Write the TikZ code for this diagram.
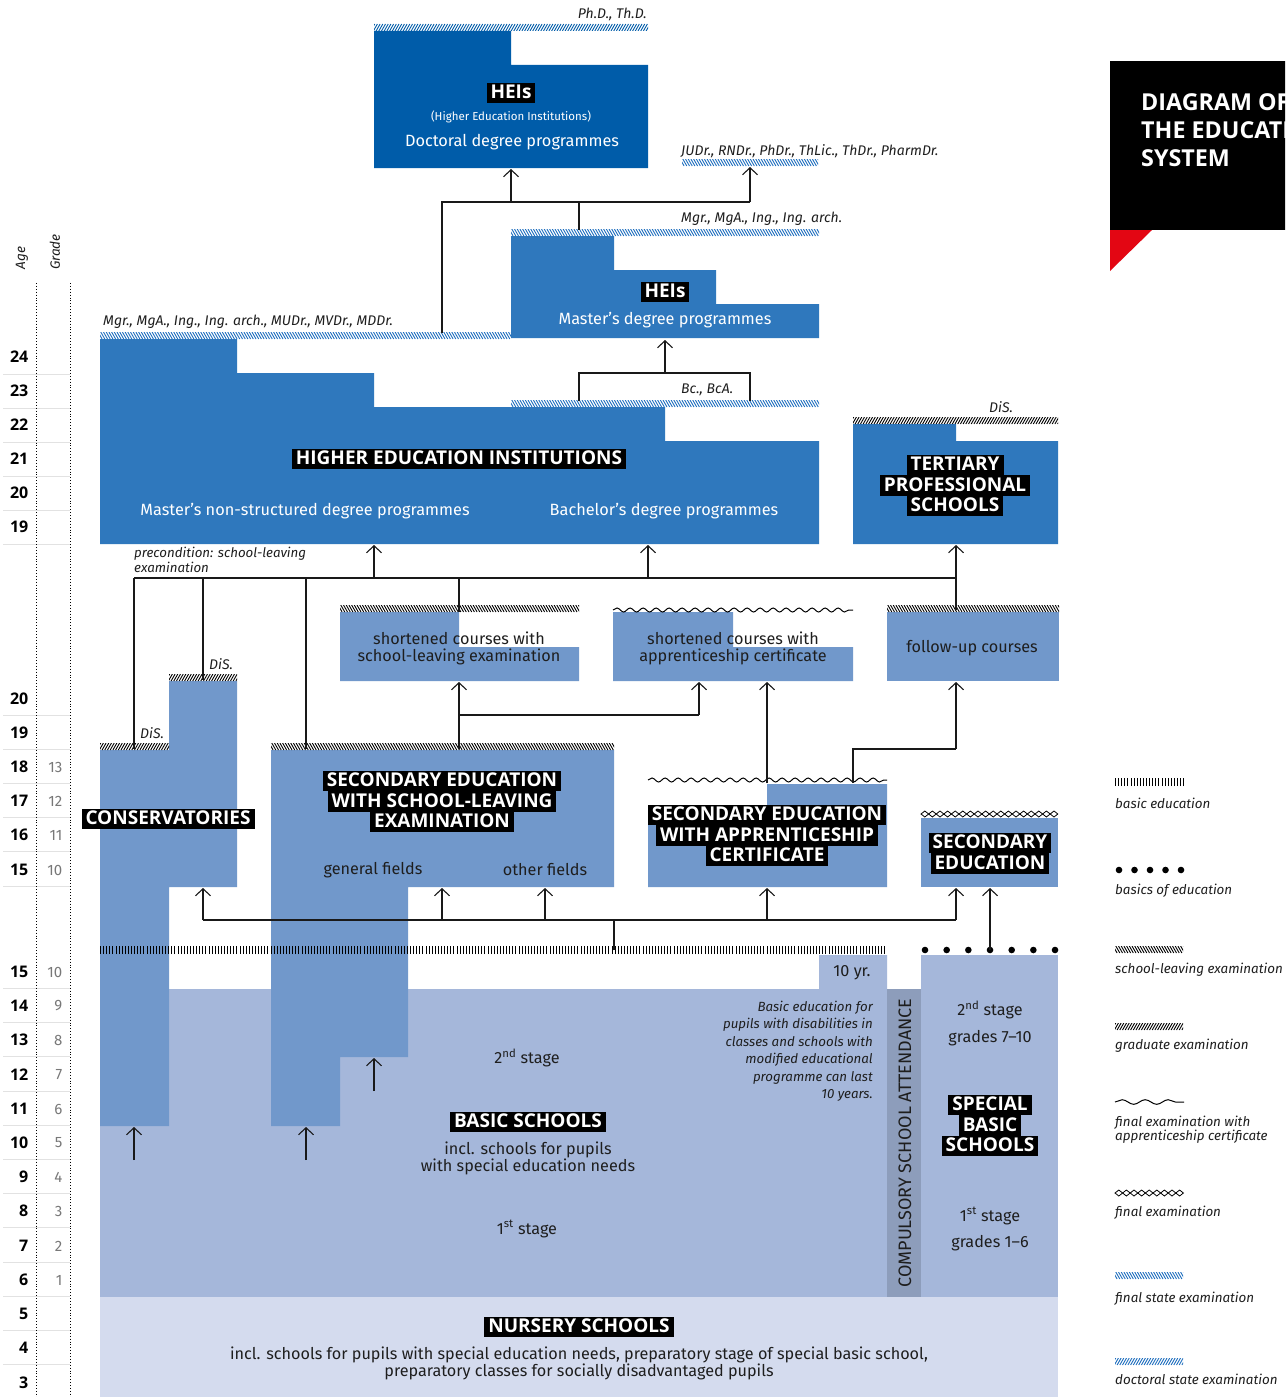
\documentclass[tikz,border=0pt]{standalone}
\usepackage{fontspec}
\setmainfont{Fira Sans}
\newfontfamily\headfont{Open Sans}
\usetikzlibrary{arrows.meta,decorations.pathmorphing}
\definecolor{docblue}{RGB}{0,92,169}
\definecolor{heiblue}{RGB}{47,120,189}
\definecolor{secblue}{RGB}{113,152,203}
\definecolor{basicblue}{RGB}{165,183,218}
\definecolor{nurscol}{RGB}{212,219,238}
\definecolor{compgray}{RGB}{141,157,187}
\definecolor{hatchblue}{RGB}{30,110,190}
\definecolor{titlered}{RGB}{227,6,19}
\definecolor{textc}{RGB}{30,30,30}
\definecolor{linec}{RGB}{25,25,25}
\definecolor{sepc}{RGB}{226,226,226}
\definecolor{gradec}{RGB}{120,120,120}
\newcommand\hatchbar[5]{%
  \begin{scope}
  \clip (#1,#3-7) rectangle (#2,#3);
  \pgfmathtruncatemacro\hbn{(#2-#1)/2.7+4}
  \foreach \hbi in {0,...,\hbn}{\draw[#5,line width=0.9pt] ({#1-6+\hbi*2.7},#3) -- ++(#4,-7);}
  \end{scope}}
\newcommand\vbars[4]{%
  \pgfmathtruncatemacro\vbn{(#2-#1)/3.1}
  \foreach \vbi in {0,...,\vbn}{\draw[line width=0.9pt] ({#1+0.5+\vbi*3.1},#3) -- ++(0,-#4);}}
\newcommand\diachain[4]{%
  \foreach \dci in {1,...,#2}{\draw[line width=0.8pt] ({#1+(\dci-1)*#4},#3) -- ++({#4/2},-3) -- ++({#4/2},3) -- ++({-#4/2},3) -- cycle;}}
\begin{document}
\begin{tikzpicture}[x=1pt,y=-1pt,
  ln/.style={line width=1.1pt,draw=linec},
  arr/.style={line width=1.1pt,draw=linec,-{Straight Barb[length=7pt,width=15pt,line width=1.1pt]}},
  blk/.style={fill=black,text=white,font=\fontsize{19}{19}\selectfont\headfont\bfseries,inner xsep=4pt,inner ysep=2.25pt,text height=13.8pt,text depth=2.2pt},
  wt/.style={text=white,font=\fontsize{16.3}{18}\selectfont,align=center},
  dk/.style={text=textc,font=\fontsize{16.2}{17}\selectfont,align=center},
  it/.style={text=textc,font=\fontsize{14}{12}\selectfont\itshape,inner sep=0pt},
  lit/.style={text=textc,font=\fontsize{13.4}{11.5}\selectfont\itshape,inner sep=0pt,anchor=west,align=left},
  age/.style={anchor=east,inner sep=0pt,font=\fontsize{16}{16}\selectfont\headfont\bfseries},
  grd/.style={anchor=east,inner sep=0pt,text=gradec,font=\fontsize{15}{15}\selectfont},
  wave/.style={line width=1pt,decorate,decoration={snake,segment length=13pt,amplitude=2pt}},
]
\useasboundingbox (0,0) rectangle (1285,1397);
\fill[white] (0,0) rectangle (1285,1397);

% ---------- age / grade scale ----------
\foreach \y in {374,408,442,476,510,544,715,749,783,817,851,886,988,1022,1056,1091,1125,1159,1193,1227,1262,1296,1330,1364}
  \draw[sepc,line width=0.8pt] (3,\y) -- (70,\y);
\draw[dotted,line width=0.9pt] (36,283) -- (36,1397);
\draw[dotted,line width=0.9pt] (70,283) -- (70,1397);
\node[rotate=90,font=\fontsize{13.5}{13.5}\selectfont\itshape,text=textc] (agehead) at (22,258) {Age};
\node[rotate=90,font=\fontsize{13.5}{13.5}\selectfont\itshape,text=textc] (gradehead) at (55,252) {Grade};
\foreach \a/\y in {24/357,23/391,22/425,21/459,20/493,19/527,20/699,19/733,18/767,17/801,16/835,15/870,15/972,14/1006,13/1040,12/1075,11/1109,10/1143,9/1177,8/1211,7/1246,6/1280,5/1314,4/1348,3/1383}
  \node[age] at (28.5,\y) {\a};
\foreach \g/\y in {13/767,12/801,11/835,10/870,10/972,9/1006,8/1040,7/1075,6/1109,5/1143,4/1177,3/1211,2/1246,1/1280}
  \node[grd] at (62.5,\y) {\g};

% ---------- blocks ----------
% doctoral
\fill[docblue] (374,31) -- (511,31) -- (511,65) -- (648,65) -- (648,168) -- (374,168) -- cycle;
\hatchbar{374}{648}{31}{4}{docblue}
% master's HEIs
\fill[heiblue] (511,236) -- (614,236) -- (614,270) -- (716,270) -- (716,304) -- (819,304) -- (819,338) -- (511,338) -- cycle;
\hatchbar{511}{819}{236}{-4}{hatchblue}
\hatchbar{682}{818}{166}{-4}{hatchblue}
% big HEI
\fill[heiblue] (100,339) -- (237,339) -- (237,373) -- (374,373) -- (374,407) -- (665,407) -- (665,441) -- (819,441) -- (819,544) -- (100,544) -- cycle;
\hatchbar{100}{511}{339}{-4}{hatchblue}
\hatchbar{511}{819}{407}{-4}{hatchblue}
% tertiary professional
\fill[heiblue] (853,424) -- (956,424) -- (956,441) -- (1058,441) -- (1058,544) -- (853,544) -- cycle;
\hatchbar{853}{1058}{424}{4}{black}
% shortened courses SLE
\fill[secblue] (340,612) -- (459,612) -- (459,647) -- (579,647) -- (579,681) -- (340,681) -- cycle;
\hatchbar{340}{579}{612}{-4}{black}
% shortened courses AC
\fill[secblue] (613,612) -- (733,612) -- (733,647) -- (853,647) -- (853,681) -- (613,681) -- cycle;
\draw[wave] (613,610) -- (853,610);
% follow-up
\fill[secblue] (887,612) rectangle (1059,681);
\hatchbar{887}{1059}{612}{-4}{black}
% basic schools
\fill[basicblue] (100,989) -- (819,989) -- (819,955) -- (887,955) -- (887,1297) -- (100,1297) -- cycle;
\fill[compgray] (887,989) rectangle (921,1297);
\fill[basicblue] (921,955) rectangle (1058,1297);
\fill[nurscol] (100,1297) rectangle (1058,1397);
% conservatories
\fill[secblue] (169,681) -- (237,681) -- (237,887) -- (169,887) -- (169,1126) -- (100,1126) -- (100,750) -- (169,750) -- cycle;
\hatchbar{100}{169}{750}{4}{black}
\hatchbar{169}{237}{681}{4}{black}
% secondary SLE
\fill[secblue] (271,750) -- (614,750) -- (614,887) -- (408,887) -- (408,1057) -- (340,1057) -- (340,1126) -- (271,1126) -- cycle;
\hatchbar{271}{614}{750}{-4}{black}
% secondary AC
\fill[secblue] (767,784) -- (887,784) -- (887,887) -- (648,887) -- (648,818) -- (767,818) -- cycle;
\draw[wave] (648,780) -- (887,780);
% secondary final
\fill[secblue] (921,818) rectangle (1058,887);
\diachain{921}{18}{814}{7.6}
% basic education bars and dots
\vbars{100}{887}{954}{8}
\foreach \i in {0,...,6} \fill ({925+\i*21.67},950) circle (3.3pt);

% ---------- connectors ----------
\coordinate (dA) at (442,333); \coordinate (dB) at (442,202); \coordinate (dC) at (750,202); \coordinate (dD) at (750,167);
\coordinate (dE) at (511,202); \coordinate (dF) at (511,169); \coordinate (dG) at (579,230); \coordinate (dH) at (579,202);
\draw[ln] (dA) -- (dB) -- (dC);
\draw[arr] (dC) -- (dD);
\draw[arr] (dE) -- (dF);
\draw[ln] (dG) -- (dH);
\coordinate (mA) at (579,401); \coordinate (mB) at (579,373); \coordinate (mC) at (750,373); \coordinate (mD) at (750,401);
\coordinate (mE) at (665,373); \coordinate (mF) at (665,340);
\draw[ln] (mA) -- (mB) -- (mC) -- (mD);
\draw[arr] (mE) -- (mF);
\coordinate (hL) at (134,578); \coordinate (hR) at (956,578);
\coordinate (hA) at (374,578); \coordinate (hA2) at (374,545);
\coordinate (hB) at (648,578); \coordinate (hB2) at (648,545);
\coordinate (hC) at (956,610); \coordinate (hC2) at (956,545);
\coordinate (hD) at (134,749); \coordinate (hE) at (203,578); \coordinate (hE2) at (203,680);
\coordinate (hF) at (306,578); \coordinate (hF2) at (306,749);
\coordinate (hG) at (459,578); \coordinate (hG2) at (459,612);
\draw[ln] (hL) -- (hR);
\draw[arr] (hA) -- (hA2);
\draw[arr] (hB) -- (hB2);
\draw[arr] (hC) -- (hC2);
\draw[ln] (hL) -- (hD);
\draw[ln] (hE) -- (hE2);
\draw[ln] (hF) -- (hF2);
\draw[ln] (hG) -- (hG2);
\coordinate (sA) at (459,749); \coordinate (sB) at (459,715); \coordinate (sC) at (699,715); \coordinate (sC2) at (699,682);
\coordinate (sB2) at (459,682);
\draw[ln] (sA) -- (sB) -- (sC);
\draw[arr] (sC) -- (sC2);
\draw[arr] (sB) -- (sB2);
\coordinate (aA) at (767,783); \coordinate (aA2) at (767,682);
\draw[arr] (aA) -- (aA2);
\coordinate (aB) at (853,783); \coordinate (aC) at (853,749); \coordinate (aD) at (956,749); \coordinate (aD2) at (956,682);
\draw[ln] (aB) -- (aC) -- (aD);
\draw[arr] (aD) -- (aD2);
\coordinate (bA) at (614,950); \coordinate (bB) at (614,920);
\coordinate (bL) at (203,920); \coordinate (bR) at (956,920);
\draw[ln] (bA) -- (bB);
\draw[ln] (bL) -- (bR);
\foreach \xx in {203,442,545,767,956} \draw[arr] (\xx,920) -- (\xx,888);
\coordinate (bS) at (990,950); \coordinate (bS2) at (990,888);
\draw[arr] (bS) -- (bS2);
\coordinate (gA) at (134,1160); \coordinate (gA2) at (134,1127);
\coordinate (gB) at (306,1160); \coordinate (gB2) at (306,1127);
\coordinate (gC) at (374,1091); \coordinate (gC2) at (374,1058);
\draw[arr] (gA) -- (gA2);
\draw[arr] (gB) -- (gB2);
\draw[arr] (gC) -- (gC2);

% ---------- labels ----------
\node[it,anchor=east] (phd) at (647,14) {Ph.D., Th.D.};
\node[blk] (heis1) at (511,93) {HEIs};
\node[wt,font=\fontsize{11.5}{12}\selectfont] (hei1sub) at (511,117) {(Higher Education Institutions)};
\node[wt] (doct) at (512,142) {Doctoral degree programmes};
\node[it,anchor=west] (judr) at (681,151) {JUDr., RNDr., PhDr., ThLic., ThDr., PharmDr.};
\node[it,anchor=west] (mgr1) at (681,219) {Mgr., MgA., Ing., Ing. arch.};
\node[blk] (heis2) at (665,292) {HEIs};
\node[wt] (mast) at (665,320) {Master’s degree programmes};
\node[it,anchor=west] (mgr2) at (103,322) {Mgr., MgA., Ing., Ing. arch., MUDr., MVDr., MDDr.};
\node[it,anchor=west] (bc) at (681,390) {Bc., BcA.};
\node[it,anchor=west] (dis1) at (989,407) {DiS.};
\node[blk] (hei) at (459,459) {HIGHER EDUCATION INSTITUTIONS};
\node[wt] (mns) at (305,511) {Master’s non-structured degree programmes};
\node[wt] (bach) at (664,511) {Bachelor’s degree programmes};
\node[blk] (tps1) at (955,465) {TERTIARY};
\node[blk] (tps2) at (955,485.5) {PROFESSIONAL};
\node[blk] (tps3) at (955,506) {SCHOOLS};
\node[it,anchor=west,align=left,font=\fontsize{13.3}{11}\selectfont\itshape] (precond) at (134,560) {precondition: school-leaving\\examination};
\node[dk] (shsle) at (459,648) {shortened courses with\\school-leaving examination};
\node[dk] (shac) at (733,648) {shortened courses with\\apprenticeship certificate};
\node[dk] (follow) at (972,648) {follow-up courses};
\node[it,anchor=west] (dis2) at (209,664) {DiS.};
\node[it,anchor=west] (dis3) at (140,733) {DiS.};
\node[blk] (cons) at (168,819) {CONSERVATORIES};
\node[blk] (sse1) at (442,781) {SECONDARY EDUCATION};
\node[blk] (sse2) at (442,801.5) {WITH SCHOOL-LEAVING};
\node[blk] (sse3) at (442,822) {EXAMINATION};
\node[dk] (gen) at (373,870) {general fields};
\node[dk] (oth) at (545,870) {other fields};
\node[blk] (sac1) at (767,815) {SECONDARY EDUCATION};
\node[blk] (sac2) at (767,835.5) {WITH APPRENTICESHIP};
\node[blk] (sac3) at (767,856) {CERTIFICATE};
\node[blk] (sfe1) at (990,843) {SECONDARY};
\node[blk] (sfe2) at (990,863.5) {EDUCATION};
\node[dk] (tenyr) at (852,973) {10 yr.};
\node[it,anchor=north east,align=right,font=\fontsize{13.3}{17.4}\selectfont\itshape] (disab) at (873,1001) {Basic education for\\pupils with disabilities in\\classes and schools with\\modified educational\\programme can last\\10 years.};
\node[dk] (bs2) at (527,1058) {2\textsuperscript{nd} stage};
\node[blk] (bs) at (528,1122) {BASIC SCHOOLS};
\node[dk] (bsincl) at (528,1158) {incl. schools for pupils\\with special education needs};
\node[dk] (bs1) at (527,1229) {1\textsuperscript{st} stage};
\node[rotate=90,text=textc,font=\fontsize{18}{18}\selectfont] (comp) at (905,1143) {COMPULSORY SCHOOL ATTENDANCE};
\node[dk] (sb2) at (990,1010) {2\textsuperscript{nd} stage};
\node[dk] (sbg2) at (990,1038) {grades 7–10};
\node[blk] (sbs1) at (990,1105) {SPECIAL};
\node[blk] (sbs2) at (990,1125.5) {BASIC};
\node[blk] (sbs3) at (990,1146) {SCHOOLS};
\node[dk] (sb1) at (990,1216) {1\textsuperscript{st} stage};
\node[dk] (sbg1) at (990,1243) {grades 1–6};
\node[blk] (nurs) at (579,1327) {NURSERY SCHOOLS};
\node[dk] (nursincl) at (579,1363) {incl. schools for pupils with special education needs, preparatory stage of special basic school,\\preparatory classes for socially disadvantaged pupils};

% ---------- title ----------
\begin{scope}
\clip (1110,61) rectangle (1285,230);
\fill[black] (1110,61) rectangle (1290,230);
\node[anchor=north west,align=left,text=white,inner sep=0pt,font=\fontsize{23.3}{28}\selectfont\headfont\bfseries] (title) at (1141,93) {DIAGRAM OF\\THE EDUCATION\\SYSTEM};
\end{scope}
\fill[titlered] (1110,230) -- (1152,230) -- (1110,271) -- cycle;

% ---------- legend ----------
\vbars{1115}{1185}{786}{8}
\node[lit] (lg1) at (1115,803) {basic education};
\foreach \i in {0,...,4} \fill ({1119+\i*15.5},870) circle (3.3pt);
\node[lit] (lg2) at (1115,891) {basics of education};
\hatchbar{1115}{1183}{953}{-4}{black}
\node[lit] (lg3) at (1115,970) {school-leaving examination};
\hatchbar{1115}{1183}{1030}{4}{black}
\node[lit] (lg4) at (1115,1046) {graduate examination};
\draw[line width=1pt,decorate,decoration={snake,segment length=23pt,amplitude=2.3pt}] (1115,1102) -- (1184,1102);
\node[lit] (lg5) at (1115,1130) {final examination with\\apprenticeship certificate};
\diachain{1115}{9}{1193}{7.6}
\node[lit] (lg6) at (1115,1213) {final examination};
\hatchbar{1115}{1183}{1279}{-4}{hatchblue}
\node[lit] (lg7) at (1115,1299) {final state examination};
\hatchbar{1115}{1183}{1365}{4}{hatchblue}
\node[lit] (lg8) at (1115,1379) {doctoral state examination};
\end{tikzpicture}
\end{document}
